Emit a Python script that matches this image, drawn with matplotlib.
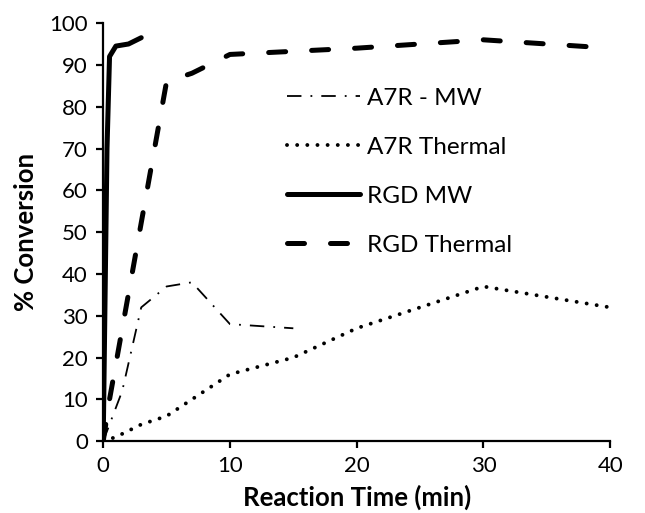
import matplotlib
matplotlib.use('Agg')
import matplotlib.pyplot as plt

plt.rcParams['font.family'] = ['Lato', 'DejaVu Sans']

# reaction time (min) vs % conversion
a7r_mw_t = [0, 1.5, 3, 5, 7, 10, 15]
a7r_mw_y = [0, 12, 32, 37, 38, 28, 27]

a7r_th_t = [0, 1, 3, 5, 10, 15, 20, 30, 40]
a7r_th_y = [0, 1, 4, 6, 16, 20, 27, 37, 32]

rgd_mw_t = [0, 0.3, 0.5, 1, 2, 3]
rgd_mw_y = [0, 70, 92, 94.5, 95, 96.5]

rgd_th_t = [0, 0.5, 5, 7, 10, 20, 30, 40]
rgd_th_y = [0, 10, 86, 88, 92.5, 94, 96, 94]

fig = plt.figure(figsize=(6.45, 5.13), dpi=100)
ax = fig.add_axes([0.16, 0.14, 0.786, 0.815])

ax.plot(a7r_mw_t, a7r_mw_y, color='black', lw=1.3,
        linestyle=(0, (8, 5, 1, 5)), label='A7R - MW')
ax.plot(a7r_th_t, a7r_th_y, color='black', lw=2.8,
        linestyle=(0, (0.01, 2.6)), dash_capstyle='round', label='A7R Thermal')
ax.plot(rgd_mw_t, rgd_mw_y, color='black', lw=3.6,
        solid_capstyle='round', solid_joinstyle='round', label='RGD MW')
ax.plot(rgd_th_t, rgd_th_y, color='black', lw=3.6,
        linestyle=(0, (3.4, 5.2)), dash_capstyle='round', label='RGD Thermal')

ax.set_xlim(0, 40)
ax.set_ylim(0, 100)
ax.set_xticks([0, 10, 20, 30, 40])
ax.set_yticks(range(0, 101, 10))
ax.spines['top'].set_visible(False)
ax.spines['right'].set_visible(False)
for s in ['left', 'bottom']:
    ax.spines[s].set_linewidth(1.6)
ax.tick_params(direction='out', length=5, width=1.6, labelsize=16)
ax.tick_params(axis='x', pad=6)
ax.tick_params(axis='y', pad=6)

ax.set_xlabel('Reaction Time (min)', fontsize=18.5, fontweight='bold', labelpad=6)
ax.set_ylabel('% Conversion', fontsize=18.5, fontweight='bold', labelpad=8)

ax.legend(loc='upper left', bbox_to_anchor=(0.363, 0.845), frameon=False,
          fontsize=17.5, handlelength=3.0, handletextpad=0.3, labelspacing=1.15,
          borderpad=0, borderaxespad=0)

fig.savefig('out.png', dpi=100)
